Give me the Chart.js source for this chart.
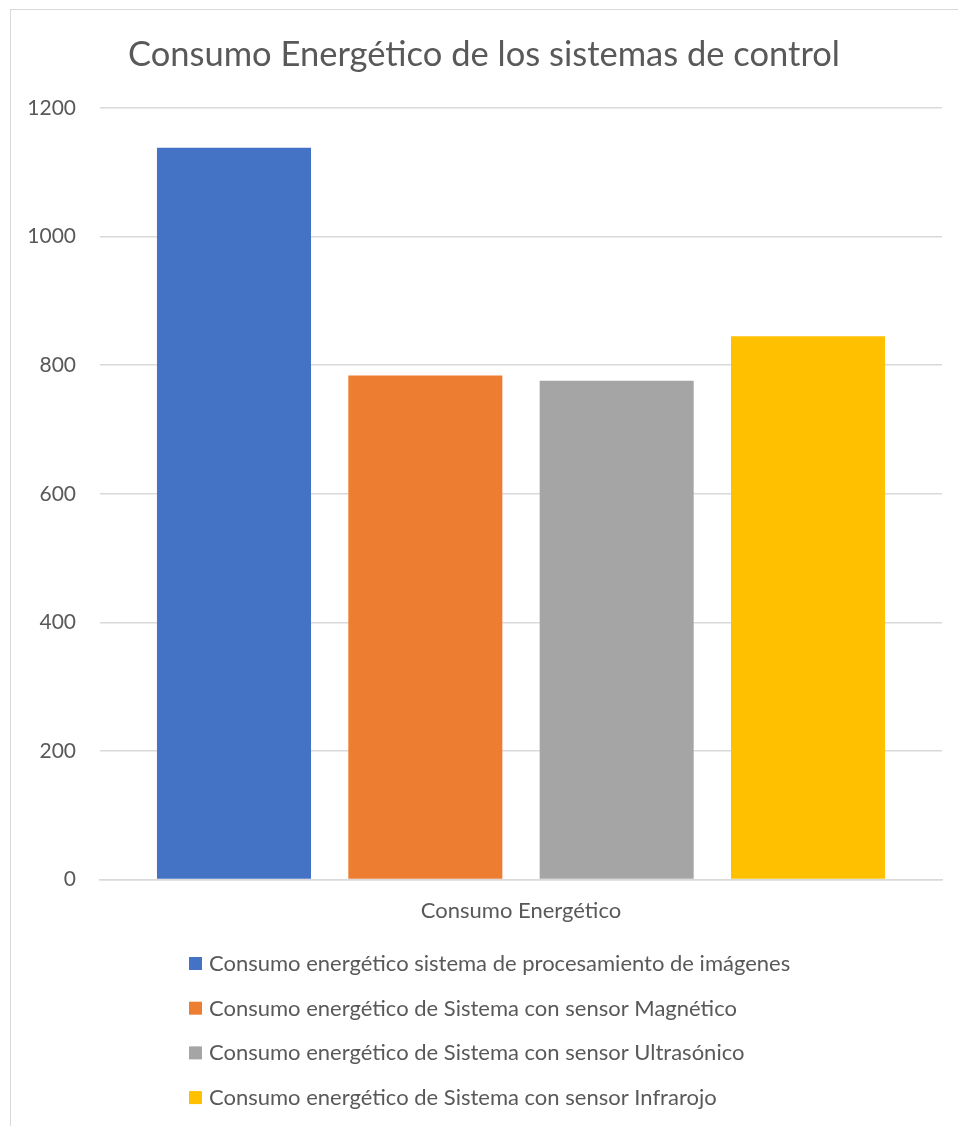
<!DOCTYPE html>
<html>
<head>
<meta charset="utf-8">
<script src="https://cdn.jsdelivr.net/npm/chart.js@4.4.0/dist/chart.umd.min.js"></script>
<style>
  html, body { margin: 0; padding: 0; background: #fff; }
  #frame { position: absolute; left: 10px; top: 9px; width: 960px; height: 1130px;
           border-left: 1px solid #d9d9d9; border-top: 1px solid #d9d9d9; }
  #wrap { position: absolute; left: 0; top: 0; width: 958px; height: 1126px; }
</style>
</head>
<body>
<div id="frame"></div>
<div id="wrap"><canvas id="canvas" width="958" height="1126"></canvas></div>
<script>
// datos
var categorias = ["Consumo Energético"];
var series = [
  "Consumo energético sistema de procesamiento de imágenes",
  "Consumo energético de Sistema con sensor Magnético",
  "Consumo energético de Sistema con sensor Ultrasónico",
  "Consumo energético de Sistema con sensor Infrarojo"
];
var valores = [1138, 784, 776, 845];
var colores = ["#4472C4", "#ED7D31", "#A5A5A5", "#FFC000"];
var ticksY = [0, 200, 400, 600, 800, 1000, 1200];

var texto = "#595959";
var fuente = "Lato, 'Open Sans', sans-serif";

// leyenda vertical alineada a la izquierda, como en Excel
var leyendaVertical = {
  id: "leyendaVertical",
  afterDraw: function(chart) {
    var ctx = chart.ctx;
    var x0 = 189;
    var y0 = chart.scales.x.bottom + 21;
    var paso = 44.7;
    ctx.save();
    ctx.font = "22px " + fuente;
    ctx.textBaseline = "middle";
    chart.data.datasets.forEach(function(ds, i) {
      var y = y0 + i * paso;
      ctx.fillStyle = ds.backgroundColor;
      ctx.fillRect(x0, y - 6, 13, 13);
      ctx.fillStyle = texto;
      ctx.fillText(ds.label, x0 + 20, y + 1);
    });
    ctx.restore();
  }
};

var datasets = series.map(function(nombre, i) {
  return {
    label: nombre,
    data: [valores[i]],
    backgroundColor: colores[i],
    borderWidth: 0,
    categoryPercentage: 0.909,
    barPercentage: 0.805
  };
});

new Chart(document.getElementById("canvas"), {
  type: "bar",
  data: { labels: categorias, datasets: datasets },
  plugins: [leyendaVertical],
  options: {
    responsive: false,
    animation: false,
    layout: { padding: { top: 17, left: 26, right: 16, bottom: 184 } },
    plugins: {
      legend: { display: false },
      tooltip: { enabled: false },
      title: {
        display: true,
        text: "Consumo Energético de los sistemas de control",
        color: texto,
        font: { family: fuente, size: 34.5, weight: "normal" },
        padding: { top: 17, bottom: 32.6 }
      }
    },
    scales: {
      x: {
        grid: { display: false, drawTicks: false },
        border: { color: "#d9d9d9", width: 1.5 },
        ticks: { color: texto, padding: 18, font: { family: fuente, size: 22 } }
      },
      y: {
        min: 0,
        max: 1200,
        afterBuildTicks: function(scale) {
          scale.ticks = ticksY.map(function(v) { return { value: v }; });
        },
        afterFit: function(scale) { scale.width = 74; },
        grid: { color: "#d9d9d9", lineWidth: 1.5, drawTicks: false },
        border: { display: false },
        ticks: {
          color: texto, padding: 24, font: { family: fuente, size: 21 },
          callback: function(v) { return String(v); }
        }
      }
    }
  }
});
</script>
</body>
</html>
